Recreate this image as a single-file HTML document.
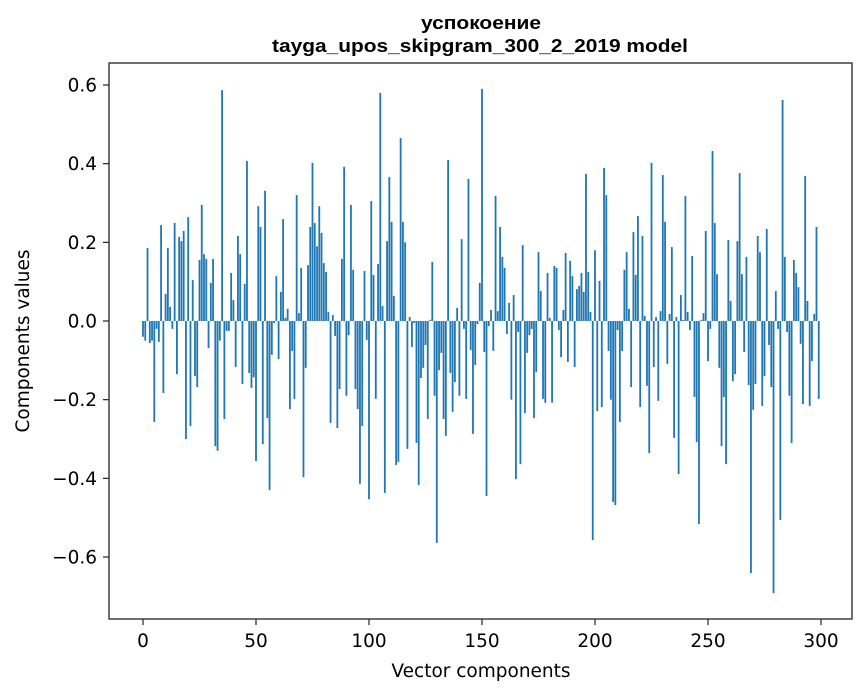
<!DOCTYPE html>
<html><head><meta charset="utf-8"><style>
html,body{margin:0;padding:0;background:#fff;}
svg{display:block;font-family:"DejaVu Sans","Liberation Sans",sans-serif;}
</style></head><body>
<svg id="chart" width="867" height="696" viewBox="0 0 867 696" xmlns="http://www.w3.org/2000/svg">
<rect width="867" height="696" fill="#fff"/>
<text x="481" y="29" text-anchor="middle" font-weight="bold" font-size="18" font-family="Liberation Sans, sans-serif" textLength="120" lengthAdjust="spacingAndGlyphs">успокоение</text>
<text x="480" y="52" text-anchor="middle" font-weight="bold" font-size="18" font-family="Liberation Sans, sans-serif" textLength="416" lengthAdjust="spacingAndGlyphs">tayga_upos_skipgram_300_2_2019 model</text>
<g id="bars"></g>
<g id="axes"></g>
<text x="481" y="677" text-anchor="middle" font-size="18.5">Vector components</text>
<text transform="translate(29,341) rotate(-90)" text-anchor="middle" font-size="18.5">Components values</text>
</svg>
<script>
const components = Array.from({length:300},(_,i)=>i);
const values = [
-0.04,-0.05,0.186,-0.056,-0.05,-0.257,-0.02,-0.053,0.244,-0.183,
0.069,0.186,0.036,-0.02,0.249,-0.135,0.214,0.203,0.229,-0.3,
0.264,-0.267,0.104,-0.14,-0.168,0.155,0.295,0.17,0.158,-0.069,
0.097,0.158,-0.318,-0.33,-0.05,0.587,-0.249,-0.025,-0.025,0.122,
0.053,-0.117,0.216,0.17,-0.16,0.094,0.407,-0.132,-0.17,-0.143,
-0.356,0.292,0.239,-0.313,0.331,-0.247,-0.43,-0.086,-0.005,0.114,
-0.097,0.074,0.259,0.008,0.031,-0.224,-0.076,-0.198,0.32,0.02,
0.135,-0.397,-0.119,0.142,0.239,0.402,0.249,0.19,0.292,0.224,
0.147,0.125,0.023,-0.259,0.015,-0.038,-0.272,-0.173,0.158,0.392,
-0.19,-0.036,0.295,0.13,-0.173,-0.224,-0.414,-0.267,0.127,-0.048,
-0.453,0.305,0.117,-0.198,0.145,0.58,0.038,-0.437,0.203,0.366,
0.252,0.064,-0.366,-0.358,0.465,0.252,0.2,-0.325,0.01,-0.066,
-0.005,-0.31,-0.417,-0.145,-0.119,-0.061,-0.249,0.003,0.15,-0.19,
-0.564,-0.125,-0.081,-0.249,-0.292,0.409,-0.132,-0.231,-0.155,0.033,
-0.19,0.208,-0.02,-0.198,0.361,-0.074,-0.287,-0.112,-0.008,0.097,
0.59,-0.079,-0.445,-0.013,0.028,-0.076,0.318,0.025,0.239,0.163,
0.135,-0.033,0.046,-0.2,0.066,-0.402,-0.028,-0.364,0.193,-0.234,
-0.081,-0.036,-0.02,-0.247,-0.13,0.175,0.076,-0.198,-0.208,0.122,
0.008,-0.208,0.14,0.135,-0.023,-0.092,0.028,0.173,-0.104,0.153,
0.114,-0.117,0.081,0.089,0.122,0.074,0.374,0.125,0.023,-0.557,
0.18,-0.229,0.102,-0.219,0.389,0.32,-0.076,-0.2,-0.46,-0.468,
-0.023,-0.257,-0.076,0.13,0.175,0.031,-0.168,0.226,0.117,0.267,
-0.219,0.216,0.013,-0.165,-0.336,0.402,-0.117,0.01,-0.203,0.025,
0.371,0.252,-0.109,0.018,0.188,-0.297,0.01,-0.389,0.066,0.003,
0.318,0.023,-0.023,0.165,-0.193,-0.308,-0.516,0.003,0.02,0.229,
-0.102,-0.02,0.432,0.249,0.119,-0.119,-0.318,-0.193,-0.364,0.206,
0.051,-0.153,-0.135,0.203,0.376,0.119,-0.079,0.163,-0.163,-0.641,
-0.226,-0.16,0.216,0.175,-0.216,-0.14,0.234,-0.061,-0.168,-0.692,
0.076,-0.02,-0.506,0.562,0.163,-0.028,-0.19,-0.31,0.155,0.122,
0.086,-0.058,-0.211,0.369,0.051,-0.216,-0.102,0.018,0.239,-0.198
];
const yTicks = [-0.6,-0.4,-0.2,0.0,0.2,0.4,0.6];
const xTicks = [0,50,100,150,200,250,300];

const NS="http://www.w3.org/2000/svg";
const L=109,R=852,T=63,B=619;
const xs=v=>143+(v-0)*(821-143)/300;
const ys=v=>321-v*(321-85)/0.6;
const bw=0.8*(821-143)/300;
const bars=document.getElementById('bars');
values.forEach((v,i)=>{
  const r=document.createElementNS(NS,'rect');
  const y0=ys(0), y1=ys(v);
  r.setAttribute('x',xs(components[i])-bw/2);
  r.setAttribute('y',Math.min(y0,y1));
  r.setAttribute('width',bw);
  r.setAttribute('height',Math.max(Math.abs(y1-y0),0.3));
  r.setAttribute('fill','#1f77b4');
  
  
  bars.appendChild(r);
});
const ax=document.getElementById('axes');
const frame=document.createElementNS(NS,'rect');
frame.setAttribute('x',L);frame.setAttribute('y',T);frame.setAttribute('width',R-L);frame.setAttribute('height',B-T);
frame.setAttribute('fill','none');frame.setAttribute('stroke','#222');frame.setAttribute('stroke-width','1.3');


ax.appendChild(frame);
yTicks.forEach(t=>{
  const y=ys(t);
  const l=document.createElementNS(NS,'line');
  l.setAttribute('x1',L-6);l.setAttribute('x2',L);l.setAttribute('y1',y);l.setAttribute('y2',y);
  l.setAttribute('stroke','#222');l.setAttribute('stroke-width','1.2');
  
  
  ax.appendChild(l);
  const tx=document.createElementNS(NS,'text');
  tx.setAttribute('x',L-12);tx.setAttribute('y',y+6.5);tx.setAttribute('text-anchor','end');tx.setAttribute('font-size','18.5');
  tx.textContent=(t<0?'\u2212':'')+Math.abs(t).toFixed(1);
  
  
  ax.appendChild(tx);
});
xTicks.forEach(t=>{
  const x=xs(t);
  const l=document.createElementNS(NS,'line');
  l.setAttribute('x1',x);l.setAttribute('x2',x);l.setAttribute('y1',B);l.setAttribute('y2',B+6);
  l.setAttribute('stroke','#222');l.setAttribute('stroke-width','1.2');
  
  
  ax.appendChild(l);
  const tx=document.createElementNS(NS,'text');
  tx.setAttribute('x',x);tx.setAttribute('y',B+28);tx.setAttribute('text-anchor','middle');tx.setAttribute('font-size','18.5');
  tx.textContent=String(t);
  
  
  ax.appendChild(tx);
});
</script>
</body></html>
